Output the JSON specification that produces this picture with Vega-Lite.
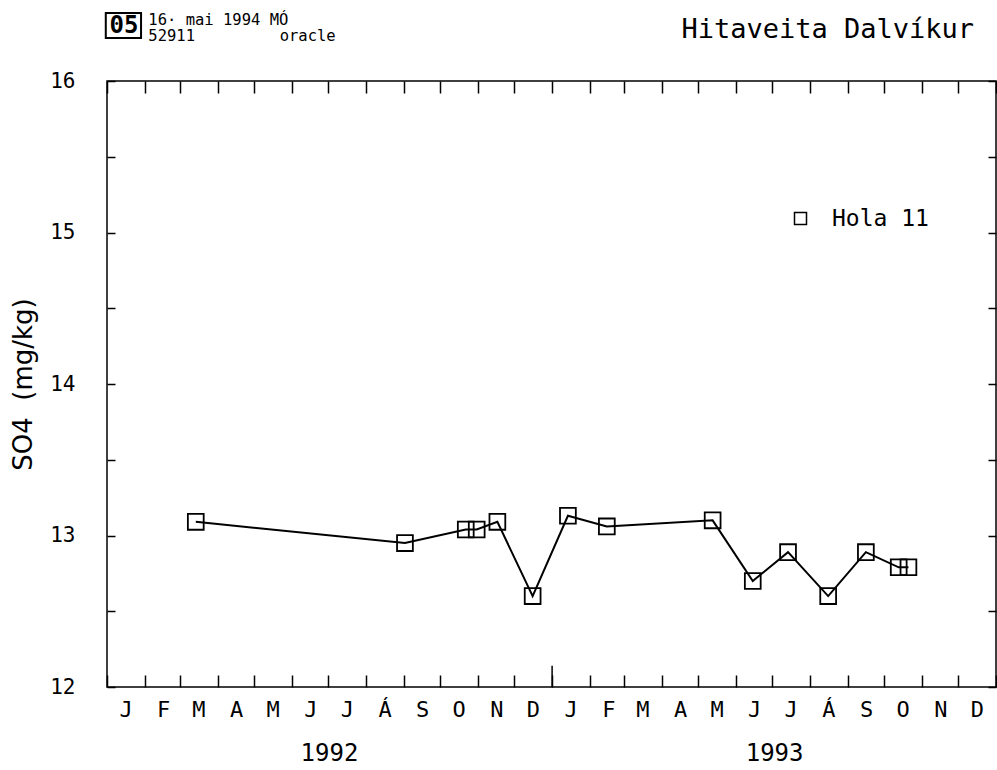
{
  "$schema": "https://vega.github.io/schema/vega-lite/v6.json",
  "width": 889,
  "height": 606,
  "autosize": {"type": "none"},
  "padding": {"left": 107, "top": 81, "right": 1, "bottom": 83},
  "background": "white",
  "config": {
    "view": {"stroke": "black", "strokeWidth": 1.5},
    "font": "DejaVu Sans Mono",
    "axis": {"labelColor": "black", "tickColor": "black", "domain": false, "grid": false, "labelFont": "DejaVu Sans Mono"}
  },
  "datasets": {
    "obs": [
      {"date": "1992-03-14", "so4": 13.09, "series": "Hola 11"},
      {"date": "1992-09-02", "so4": 12.95, "series": "Hola 11"},
      {"date": "1992-10-22", "so4": 13.04, "series": "Hola 11"},
      {"date": "1992-10-31", "so4": 13.04, "series": "Hola 11"},
      {"date": "1992-11-17", "so4": 13.09, "series": "Hola 11"},
      {"date": "1992-12-16", "so4": 12.60, "series": "Hola 11"},
      {"date": "1993-01-14", "so4": 13.13, "series": "Hola 11"},
      {"date": "1993-02-15", "so4": 13.06, "series": "Hola 11"},
      {"date": "1993-05-13", "so4": 13.10, "series": "Hola 11"},
      {"date": "1993-06-15", "so4": 12.70, "series": "Hola 11"},
      {"date": "1993-07-14", "so4": 12.89, "series": "Hola 11"},
      {"date": "1993-08-16", "so4": 12.60, "series": "Hola 11"},
      {"date": "1993-09-16", "so4": 12.89, "series": "Hola 11"},
      {"date": "1993-10-13", "so4": 12.79, "series": "Hola 11"},
      {"date": "1993-10-21", "so4": 12.79, "series": "Hola 11"}
    ]
  },
  "layer": [
    {
      "data": {"name": "obs"},
      "mark": {"type": "line", "color": "black", "strokeWidth": 2},
      "encoding": {
        "x": {
          "field": "date", "type": "temporal",
          "scale": {"domain": [{"year": 1992, "month": 1, "date": 1}, {"year": 1994, "month": 1, "date": 1}]},
          "axis": {
            "orient": "bottom",
            "title": null,
            "tickCount": {"interval": "month", "step": 1},
            "tickSize": -12,
            "tickWidth": 1.5,
            "labelOffset": 18.5,
            "labelAlign": "center",
            "labelBaseline": "top",
            "labelPadding": 24,
            "labelFontSize": 22,
            "labelOverlap": false,
            "labelBound": false,
            "labelFlush": false,
            "labelExpr": "year(datum.value) >= 1994 ? '' : ['J','F','M','A','M','J','J','Á','S','O','N','D'][month(datum.value)]"
          }
        },
        "y": {
          "field": "so4", "type": "quantitative",
          "scale": {"domain": [12, 16], "nice": false, "zero": false},
          "axis": {
            "orient": "left",
            "title": "SO4\u00a0\u00a0(mg/kg)",
            "titleFont": "DejaVu Sans",
            "titleFontSize": 26,
            "titleFontWeight": "normal",
            "titleColor": "black",
            "titlePadding": 13,
            "values": [12, 12.5, 13, 13.5, 14, 14.5, 15, 15.5, 16],
            "tickSize": -8,
            "tickWidth": 1.5,
            "labelFontSize": 21,
            "labelPadding": 40,
            "labelExpr": "datum.value % 1 == 0 ? datum.value : ''"
          }
        }
      }
    },
    {
      "data": {"name": "obs"},
      "mark": {"type": "point", "shape": "square", "filled": false, "size": 250, "stroke": "black", "strokeWidth": 1.8, "opacity": 1},
      "encoding": {
        "x": {
          "field": "date", "type": "temporal",
          "axis": {
            "orient": "top",
            "title": null,
            "tickCount": {"interval": "month", "step": 1},
            "tickSize": -12,
            "tickWidth": 1.5,
            "labels": false
          }
        },
        "y": {
          "field": "so4", "type": "quantitative",
          "axis": {
            "orient": "right",
            "title": null,
            "values": [12, 12.5, 13, 13.5, 14, 14.5, 15, 15.5, 16],
            "tickSize": -8,
            "tickWidth": 1.5,
            "labels": false
          }
        },
        "shape": {
          "field": "series", "type": "nominal",
          "scale": {"range": ["square"]},
          "legend": {
            "title": null,
            "orient": "none",
            "legendX": 682,
            "legendY": 126,
            "padding": 0,
            "symbolType": "square",
            "symbolSize": 144,
            "symbolStrokeColor": "black",
            "symbolStrokeWidth": 1.5,
            "symbolFillColor": "white",
            "labelFont": "DejaVu Sans Mono",
            "labelFontSize": 23,
            "labelColor": "black",
            "labelOffset": 20
          }
        }
      }
    },
    {
      "data": {"values": [{}]},
      "mark": {"type": "rule", "color": "black", "strokeWidth": 1.5},
      "encoding": {
        "x": {
          "datum": {"year": 1993, "month": 1, "date": 1}, "type": "temporal",
          "axis": {
            "orient": "bottom",
            "title": null,
            "values": [{"year": 1992, "month": 1, "date": 1}, {"year": 1993, "month": 1, "date": 1}],
            "ticks": false,
            "labelOffset": 222,
            "labelAlign": "center",
            "labelBaseline": "top",
            "labelPadding": 54,
            "labelFontSize": 24,
            "labelOverlap": false,
            "labelBound": false,
            "labelFlush": false,
            "labelExpr": "year(datum.value)"
          }
        },
        "y": {"datum": 12, "type": "quantitative", "axis": null},
        "y2": {"datum": 12.14}
      }
    },
    {
      "data": {"values": [{}]},
      "mark": {"type": "rect", "fill": null, "fillOpacity": 0, "stroke": "black", "strokeWidth": 2, "clip": false},
      "encoding": {
        "x": {"datum": {"year": 1991, "month": 12, "date": 31}, "type": "temporal", "axis": null},
        "x2": {"datum": {"year": 1992, "month": 1, "date": 29}},
        "y": {"datum": 16.449, "type": "quantitative", "axis": null},
        "y2": {"datum": 16.284}
      }
    },
    {
      "data": {"values": [{}]},
      "mark": {"type": "text", "text": "05", "font": "DejaVu Sans Mono", "fontSize": 24, "fontWeight": "bold", "align": "center", "baseline": "middle", "color": "black", "clip": false},
      "encoding": {
        "x": {"datum": {"year": 1992, "month": 1, "date": 15}, "type": "temporal", "axis": null},
        "y": {"datum": 16.366, "type": "quantitative", "axis": null}
      }
    },
    {
      "data": {"values": [{}]},
      "mark": {"type": "text", "text": "16· mai 1994 MÓ", "font": "DejaVu Sans Mono", "fontSize": 15.5, "align": "left", "baseline": "alphabetic", "color": "black", "clip": false},
      "encoding": {
        "x": {"datum": {"year": 1992, "month": 2, "date": 4}, "type": "temporal", "axis": null},
        "y": {"datum": 16.372, "type": "quantitative", "axis": null}
      }
    },
    {
      "data": {"values": [{}]},
      "mark": {"type": "text", "text": "52911", "font": "DejaVu Sans Mono", "fontSize": 15.5, "align": "left", "baseline": "alphabetic", "color": "black", "clip": false},
      "encoding": {
        "x": {"datum": {"year": 1992, "month": 2, "date": 4}, "type": "temporal", "axis": null},
        "y": {"datum": 16.262, "type": "quantitative", "axis": null}
      }
    },
    {
      "data": {"values": [{}]},
      "mark": {"type": "text", "text": "oracle", "font": "DejaVu Sans Mono", "fontSize": 15.5, "align": "left", "baseline": "alphabetic", "color": "black", "clip": false},
      "encoding": {
        "x": {"datum": {"year": 1992, "month": 5, "date": 22}, "type": "temporal", "axis": null},
        "y": {"datum": 16.262, "type": "quantitative", "axis": null}
      }
    },
    {
      "data": {"values": [{}]},
      "mark": {"type": "text", "text": "Hitaveita Dalvíkur", "font": "DejaVu Sans Mono", "fontSize": 27, "align": "right", "baseline": "alphabetic", "color": "black", "clip": false},
      "encoding": {
        "x": {"datum": {"year": 1993, "month": 12, "date": 14}, "type": "temporal", "axis": null},
        "y": {"datum": 16.284, "type": "quantitative", "axis": null}
      }
    }
  ],
  "resolve": {"axis": {"x": "independent", "y": "independent"}}
}
